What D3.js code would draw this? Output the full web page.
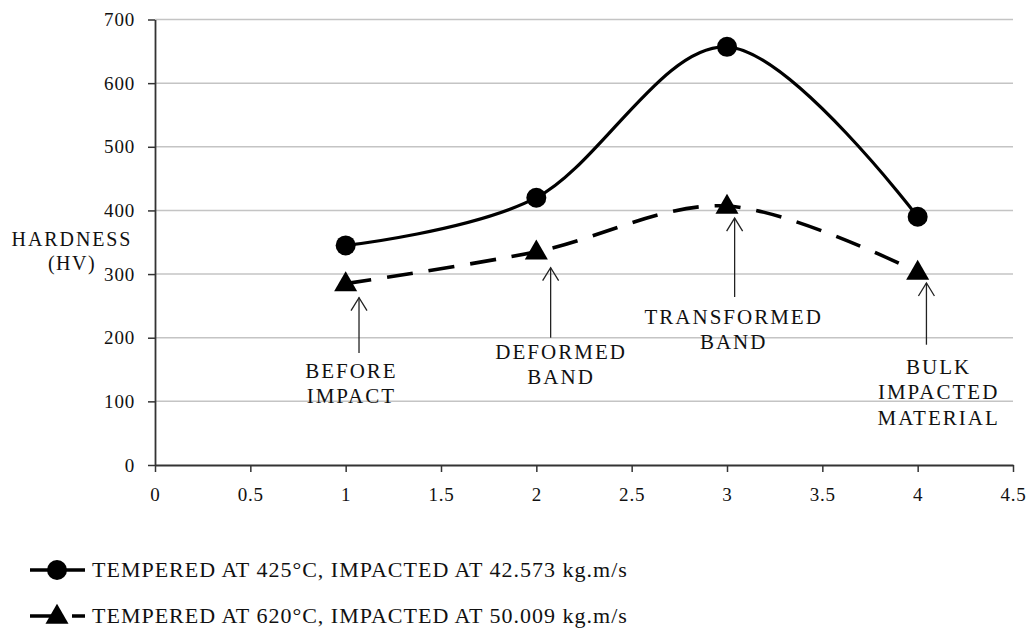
<!DOCTYPE html>
<html>
<head>
<meta charset="utf-8">
<script src="https://cdn.jsdelivr.net/npm/d3@7"></script>
<style>
  body { margin: 0; background: #fff; }
  svg text { font-family: "Liberation Serif", Tinos, "Times New Roman", "DejaVu Serif", serif; fill: #111; }
</style>
</head>
<body>
<div id="chart"></div>
<script>
// measured points (x = position across the sample)
const positions = [1, 2, 3, 4];
const hardness425 = [345, 420, 657, 390];
const hardness620 = [285, 335, 407, 303];

const xTicks = [0, 0.5, 1, 1.5, 2, 2.5, 3, 3.5, 4, 4.5];
const yTicks = [0, 100, 200, 300, 400, 500, 600, 700];

const seriesLabels = [
  "TEMPERED AT 425\u00B0C, IMPACTED AT 42.573 kg.m/s",
  "TEMPERED AT 620\u00B0C, IMPACTED AT 50.009 kg.m/s",
];

// region notes, placed in data units
const noteLines = [["BEFORE", "IMPACT"], ["DEFORMED", "BAND"], ["TRANSFORMED", "BAND"], ["BULK", "IMPACTED", "MATERIAL"]];
const noteArrowX = [1.07, 2.075, 3.04, 4.046];
const noteArrowTip = [263, 310, 388, 286];
const noteArrowTail = [176, 200, 264, 189];
const noteTextX = [1.03, 2.13, 3.035, 4.11];
const noteTextY = [137, 167, 222, 143];

const serif = "'Liberation Serif', Tinos, 'Times New Roman', 'DejaVu Serif', serif";
const width = 1032, height = 631;
const margin = { left: 155, right: 19, top: 19.5, bottom: 166 };

const svg = d3.select("#chart").append("svg")
  .attr("width", width)
  .attr("height", height)
  .attr("font-family", serif);

const x = d3.scaleLinear().domain([0, 4.5]).range([margin.left, width - margin.right]);
const y = d3.scaleLinear().domain([0, 700]).range([height - margin.bottom, margin.top]);

// gridlines
svg.append("g")
  .selectAll("line")
  .data(yTicks.filter(d => d > 0))
  .join("line")
  .attr("x1", x(0)).attr("x2", x(4.5))
  .attr("y1", d => y(d)).attr("y2", d => y(d))
  .attr("stroke", "#c4c4c4")
  .attr("stroke-width", 1.5);

// axes
const yAxis = svg.append("g")
  .attr("transform", `translate(${x(0)},0)`)
  .call(d3.axisLeft(y).tickValues(yTicks).tickFormat(d => String(d))
    .tickSize(7).tickPadding(13).tickSizeOuter(0));

const xAxis = svg.append("g")
  .attr("transform", `translate(0,${y(0)})`)
  .call(d3.axisBottom(x).tickValues(xTicks).tickFormat(d => String(d))
    .tickSize(7).tickPadding(16).tickSizeOuter(0));

[yAxis, xAxis].forEach(g => {
  g.attr("font-family", serif);
  g.select(".domain").attr("stroke", "#333").attr("stroke-width", 1.8);
  g.selectAll(".tick line").attr("stroke", "#333").attr("stroke-width", 1.5);
  g.selectAll(".tick text")
    .style("font-family", serif)
    .style("font-size", "19px")
    .style("letter-spacing", "0.8px")
    .attr("fill", "#111");
});

// y label
svg.append("text")
  .attr("x", 72).attr("y", 246)
  .attr("text-anchor", "middle")
  .style("font-size", "20px")
  .style("letter-spacing", "1.9px")
  .text("HARDNESS");
svg.append("text")
  .attr("x", 72).attr("y", 270)
  .attr("text-anchor", "middle")
  .style("font-size", "20px")
  .style("letter-spacing", "1.5px")
  .text("(HV)");

// series
const line = d3.line()
  .x((d, i) => x(positions[i]))
  .y(d => y(d))
  .curve(d3.curveCardinal.tension(0));

svg.append("path")
  .datum(hardness425)
  .attr("d", line)
  .attr("fill", "none")
  .attr("stroke", "#000")
  .attr("stroke-width", 3.2);

svg.append("path")
  .datum(hardness620)
  .attr("d", line)
  .attr("fill", "none")
  .attr("stroke", "#000")
  .attr("stroke-width", 3.6)
  .attr("stroke-dasharray", "26,16");

const triangle = d3.symbol().type(d3.symbolTriangle).size(230);

svg.append("g")
  .selectAll("circle")
  .data(hardness425)
  .join("circle")
  .attr("cx", (d, i) => x(positions[i]))
  .attr("cy", d => y(d))
  .attr("r", 10)
  .attr("fill", "#000");

svg.append("g")
  .selectAll("path")
  .data(hardness620)
  .join("path")
  .attr("d", triangle)
  .attr("transform", (d, i) => `translate(${x(positions[i])},${y(d) + 1})`)
  .attr("fill", "#000");

// notes with open arrowheads
const notes = svg.append("g");
noteLines.forEach((lines, i) => {
  const ax = x(noteArrowX[i]);
  const tip = y(noteArrowTip[i]);
  notes.append("line")
    .attr("x1", ax).attr("x2", ax)
    .attr("y1", tip).attr("y2", y(noteArrowTail[i]))
    .attr("stroke", "#222")
    .attr("stroke-width", 1.3);
  notes.append("path")
    .attr("d", `M${ax - 8},${tip + 13}L${ax},${tip}L${ax + 8},${tip + 13}`)
    .attr("fill", "none")
    .attr("stroke", "#222")
    .attr("stroke-width", 1.3);

  const t = notes.append("text")
    .attr("x", x(noteTextX[i]))
    .attr("y", y(noteTextY[i]))
    .attr("text-anchor", "middle")
    .style("font-size", "21px")
    .style("letter-spacing", "2px");
  lines.forEach((s, j) => {
    t.append("tspan")
      .attr("x", x(noteTextX[i]))
      .attr("dy", j === 0 ? 0 : 25.5)
      .text(s);
  });
});

// legend
const legend = svg.append("g");
const legendRows = [577, 623];
seriesLabels.forEach((label, i) => {
  const cy = legendRows[i] - 7;
  const row = legend.append("g");
  row.append("line")
    .attr("x1", 30).attr("x2", 85)
    .attr("y1", cy).attr("y2", cy)
    .attr("stroke", "#000")
    .attr("stroke-width", 3.4)
    .attr("stroke-dasharray", i === 0 ? null : "26,16");
  if (i === 0) {
    row.append("circle").attr("cx", 57).attr("cy", cy).attr("r", 10).attr("fill", "#000");
  } else {
    row.append("path").attr("d", triangle).attr("transform", `translate(57,${cy + 1})`).attr("fill", "#000");
  }
  row.append("text")
    .attr("x", 92).attr("y", legendRows[i])
    .style("font-size", "22px")
    .style("letter-spacing", "1px")
    .text(label);
});
</script>
</body>
</html>
